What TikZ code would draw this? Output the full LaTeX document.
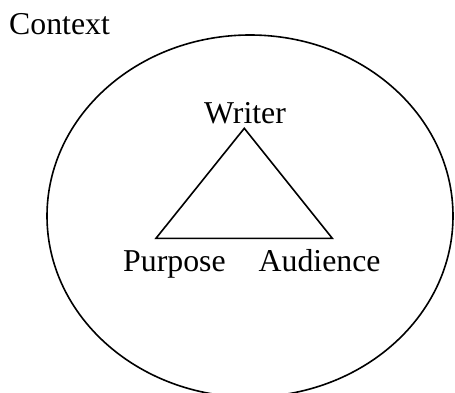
\documentclass[tikz,border=0pt]{standalone}
\usepackage{fontspec}
\setmainfont{Liberation Serif}
\usetikzlibrary{shapes.geometric}
\begin{document}
\begin{tikzpicture}[x=1pt,y=-1pt,
  label text/.style={inner sep=0pt, anchor=base west, font=\fontsize{31.8}{36}\selectfont},
  rim/.style={draw, line width=1.6pt},
  side/.style={draw, line width=1.6pt, line join=miter}]
  \useasboundingbox (0,0) rectangle (455,393);
  \clip (0,0) rectangle (455,393);
  % outer context ellipse
  \node[rim, ellipse, inner sep=0pt, minimum width=406pt, minimum height=362pt] (ctx) at (250,216) {};
  % triangle corners
  \coordinate (W) at (244.3,128.3);
  \coordinate (P) at (156,238.3);
  \coordinate (A) at (332.3,238.3);
  \draw[side] (W) -- (A) -- (P) -- cycle;
  % labels
  \node[label text] (context) at (9,35) {Context};
  \node[label text] (writer) at (204,124) {Writer};
  \node[label text] (purpose) at (123,271.5) {Purpose};
  \node[label text] (audience) at (258.5,271.5) {Audience};
\end{tikzpicture}
\end{document}
